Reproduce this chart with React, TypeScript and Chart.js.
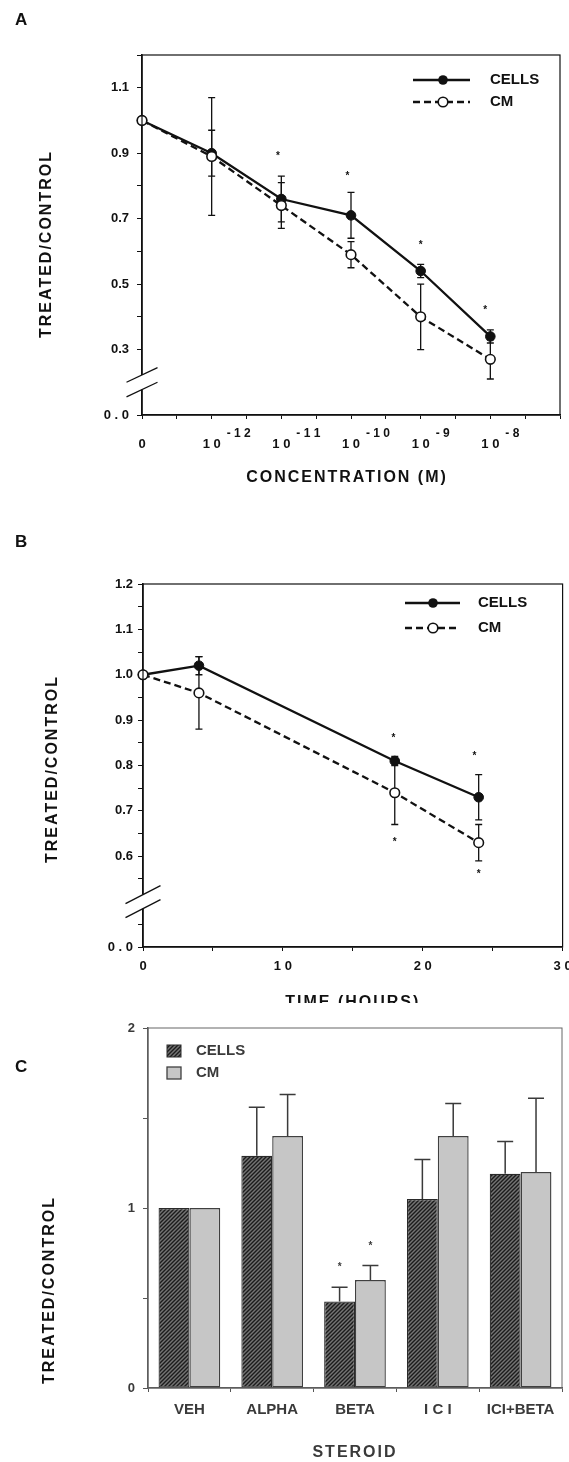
import React, { useEffect, useRef } from 'react';
import { Chart, registerables } from 'chart.js';
Chart.register(...registerables);

const FONT = '"Liberation Sans", Arial, Helvetica, sans-serif';
const INK = '#111111';
const GREY_INK = '#3a3a3a';

// ---------- Panel A : concentration ----------
const concPositionsA = [0, 2, 4, 6, 8, 10];
const concBaseLabelsA = ['0', '1 0', '1 0', '1 0', '1 0', '1 0'];
const concExpLabelsA = ['', '- 1 2', '- 1 1', '- 1 0', '- 9', '- 8'];
const cellsA = [1.0, 0.9, 0.76, 0.71, 0.54, 0.34];
const cellsErrA = [0, 0.07, 0.07, 0.07, 0.02, 0.02];
const cmA = [1.0, 0.89, 0.74, 0.59, 0.4, 0.27];
const cmErrA = [0, 0.18, 0.07, 0.04, 0.1, 0.06];
const starXA = [3.9, 5.9, 8, 9.85];
const starYA = [0.89, 0.83, 0.62, 0.42];
const yTickValuesA = [0.1, 0.3, 0.5, 0.7, 0.9, 1.1];
const yTickTextA = ['0 . 0', '0.3', '0.5', '0.7', '0.9', '1.1'];

// ---------- Panel B : time ----------
const hoursB = [0, 4, 18, 24];
const cellsB = [1.0, 1.02, 0.81, 0.73];
const cellsErrB = [0, 0.02, 0.01, 0.05];
const cmB = [1.0, 0.96, 0.74, 0.63];
const cmErrB = [0, 0.08, 0.07, 0.04];
const starXB = [17.9, 23.7, 18, 24];
const starYB = [0.86, 0.82, 0.63, 0.56];
const yTickValuesB = [0.4, 0.6, 0.7, 0.8, 0.9, 1.0, 1.1, 1.2];
const yTickTextB = ['0 . 0', '0.6', '0.7', '0.8', '0.9', '1.0', '1.1', '1.2'];
const xTickValuesB = [0, 10, 20, 30];
const xTickTextB = ['0', '1 0', '2 0', '3 0'];

// ---------- Panel C : steroid ----------
const steroidsC = ['VEH', 'ALPHA', 'BETA', 'I C I', 'ICI+BETA'];
const cellsC = [1.0, 1.29, 0.48, 1.05, 1.19];
const cellsUpperC = [null, 1.56, 0.56, 1.27, 1.37];
const cmC = [1.0, 1.4, 0.6, 1.4, 1.2];
const cmUpperC = [null, 1.63, 0.68, 1.58, 1.61];
const starsCellsC = [null, null, 0.67, null, null];
const starsCmC = [null, null, 0.79, null, null];
const yTickValuesC = [0, 1, 2];
const yTickTextC = ['0', '1', '2'];

function labelFor(values: number[], texts: string[], v: number) {
  const i = values.findIndex((t) => Math.abs(t - v) < 1e-6);
  return i >= 0 ? texts[i] : '';
}

const fixAxis = (w?: number, h?: number) => (s: any) => {
  if (w !== undefined) s.width = w;
  if (h !== undefined) s.height = h;
  s.paddingLeft = 0;
  s.paddingRight = 0;
  s.paddingTop = 0;
  s.paddingBottom = 0;
};

function txt(
  ctx: CanvasRenderingContext2D,
  s: string,
  x: number,
  y: number,
  font: string,
  o: { align?: CanvasTextAlign; baseline?: CanvasTextBaseline; color?: string; spacing?: number; rotate?: number } = {}
) {
  ctx.save();
  ctx.font = font;
  ctx.fillStyle = o.color || INK;
  ctx.textAlign = o.align || 'left';
  ctx.textBaseline = o.baseline || 'middle';
  if (o.spacing) (ctx as any).letterSpacing = o.spacing + 'px';
  ctx.translate(x, y);
  if (o.rotate) ctx.rotate(o.rotate);
  ctx.fillText(s, 0, 0);
  ctx.restore();
}

function box(ctx: CanvasRenderingContext2D, ca: any, color: string, lw: number) {
  ctx.save();
  ctx.strokeStyle = color;
  ctx.lineWidth = lw;
  ctx.strokeRect(ca.left, ca.top, ca.right - ca.left, ca.bottom - ca.top);
  ctx.restore();
}

function breakMarks(ctx: CanvasRenderingContext2D, ax: number, cy: number, dx: number, dy: number, gap: number) {
  ctx.save();
  ctx.fillStyle = '#fff';
  ctx.fillRect(ax - 2, cy - gap, 4, gap * 2);
  ctx.strokeStyle = INK;
  ctx.lineWidth = 1.3;
  for (const off of [-gap, gap]) {
    ctx.beginPath();
    ctx.moveTo(ax - dx, cy + off + dy);
    ctx.lineTo(ax + dx, cy + off - dy);
    ctx.stroke();
  }
  ctx.restore();
}

function errorBars(chart: any, xs: number[], ys: number[], errs: number[], half: number) {
  const { ctx, scales } = chart;
  const x = scales.x, y = scales.y;
  ctx.save();
  ctx.strokeStyle = INK;
  ctx.lineWidth = 1.3;
  xs.forEach((xv, i) => {
    const e = errs[i];
    if (!e) return;
    const px = x.getPixelForValue(xv);
    const y1 = y.getPixelForValue(ys[i] + e);
    const y2 = y.getPixelForValue(ys[i] - e);
    ctx.beginPath();
    ctx.moveTo(px, y1); ctx.lineTo(px, y2);
    ctx.moveTo(px - half, y1); ctx.lineTo(px + half, y1);
    ctx.moveTo(px - half, y2); ctx.lineTo(px + half, y2);
    ctx.stroke();
  });
  ctx.restore();
}

function lineLegend(ctx: CanvasRenderingContext2D, x0: number, x1: number, xm: number, xt: number, y1: number, y2: number) {
  ctx.save();
  ctx.strokeStyle = INK;
  ctx.lineWidth = 2.4;
  ctx.beginPath(); ctx.moveTo(x0, y1); ctx.lineTo(x1, y1); ctx.stroke();
  ctx.fillStyle = INK;
  ctx.beginPath(); ctx.arc(xm, y1, 4.8, 0, Math.PI * 2); ctx.fill();
  ctx.setLineDash([7, 4]);
  ctx.beginPath(); ctx.moveTo(x0, y2); ctx.lineTo(x1, y2); ctx.stroke();
  ctx.setLineDash([]);
  ctx.fillStyle = '#fff';
  ctx.lineWidth = 1.6;
  ctx.beginPath(); ctx.arc(xm, y2, 4.8, 0, Math.PI * 2); ctx.fill(); ctx.stroke();
  ctx.restore();
  txt(ctx, 'CELLS', xt, y1, `bold 15px ${FONT}`);
  txt(ctx, 'CM', xt, y2, `bold 15px ${FONT}`);
}

function lineDatasets(xs: number[], cells: number[], cm: number[]) {
  return [
    {
      label: 'CELLS',
      data: xs.map((x, i) => ({ x, y: cells[i] })),
      borderColor: INK,
      backgroundColor: INK,
      borderWidth: 2.3,
      pointRadius: 4.8,
      pointBackgroundColor: INK,
      pointBorderColor: INK,
      pointBorderWidth: 1,
      tension: 0,
      clip: false,
      order: 2,
    },
    {
      label: 'CM',
      data: xs.map((x, i) => ({ x, y: cm[i] })),
      borderColor: INK,
      backgroundColor: '#fff',
      borderWidth: 2.3,
      borderDash: [7, 4],
      pointRadius: 4.8,
      pointBackgroundColor: '#fff',
      pointBorderColor: INK,
      pointBorderWidth: 1.6,
      tension: 0,
      clip: false,
      order: 1,
    },
  ];
}

const tickFont = { family: FONT, size: 13, weight: 'bold' as const };

function buildA(): any {
  return {
    type: 'line',
    data: { datasets: lineDatasets(concPositionsA, cellsA, cmA) },
    options: {
      responsive: false,
      animation: false,
      events: [],
      layout: { padding: { left: 0, right: 9, top: 55, bottom: 35 } },
      plugins: { legend: { display: false }, tooltip: { enabled: false } },
      scales: {
        x: {
          type: 'linear', min: 0, max: 12,
          ticks: { stepSize: 1, display: false, autoSkip: false },
          grid: { drawOnChartArea: false, drawTicks: true, tickLength: 4, color: INK, lineWidth: 1 },
          border: { display: true, color: INK, width: 1.6 },
          afterFit: fixAxis(undefined, 40),
        },
        y: {
          type: 'linear', min: 0.1, max: 1.2,
          ticks: {
            stepSize: 0.1, autoSkip: false, padding: 8, color: INK, font: tickFont,
            callback: (v: number) => labelFor(yTickValuesA, yTickTextA, v),
          },
          grid: {
            drawOnChartArea: false, drawTicks: true, tickLength: 5, lineWidth: 1,
            color: (c: any) => (c.tick && Math.abs(c.tick.value - 0.2) < 1e-6 ? 'rgba(0,0,0,0)' : INK),
          },
          border: { display: true, color: INK, width: 1.6 },
          afterFit: fixAxis(142, undefined),
        },
      },
    },
    plugins: [
      {
        id: 'decorA',
        beforeDatasetsDraw(chart: any) {
          errorBars(chart, concPositionsA, cellsA, cellsErrA, 3.5);
          errorBars(chart, concPositionsA, cmA, cmErrA, 3.5);
        },
        afterDraw(chart: any) {
          const { ctx, chartArea: ca, scales } = chart;
          const x = scales.x, y = scales.y;
          box(ctx, ca, INK, 1.2);
          breakMarks(ctx, ca.left, y.getPixelForValue(0.2), 15.5, 7.3, 7.3);
          concPositionsA.forEach((p, i) => {
            const px = x.getPixelForValue(p);
            ctx.save();
            ctx.font = `bold 13px ${FONT}`;
            const w = ctx.measureText(concBaseLabelsA[i]).width;
            ctx.restore();
            txt(ctx, concBaseLabelsA[i], px, 444, `bold 13px ${FONT}`, { align: 'center' });
            if (concExpLabelsA[i]) txt(ctx, concExpLabelsA[i], px + w / 2 + 6, 434, `bold 12px ${FONT}`);
          });
          starXA.forEach((sx, i) =>
            txt(ctx, '*', x.getPixelForValue(sx), y.getPixelForValue(starYA[i]), `bold 10px ${FONT}`, { align: 'center' })
          );
          lineLegend(ctx, 413, 470, 443, 490, 80, 102);
          txt(ctx, 'CONCENTRATION (M)', (ca.left + ca.right) / 2 - 4, 482, `bold 16px ${FONT}`, { align: 'center', baseline: 'alphabetic', spacing: 2 });
          txt(ctx, 'TREATED/CONTROL', 47, 244, `bold 16px ${FONT}`, { align: 'center', spacing: 2, rotate: -Math.PI / 2 });
          txt(ctx, 'A', 15, 25, `bold 17px ${FONT}`, { baseline: 'alphabetic' });
        },
      },
    ],
  };
}

function buildB(): any {
  return {
    type: 'line',
    data: { datasets: lineDatasets(hoursB, cellsB, cmB) },
    options: {
      responsive: false,
      animation: false,
      events: [],
      layout: { padding: { left: 0, right: 6, top: 94, bottom: 16 } },
      plugins: { legend: { display: false }, tooltip: { enabled: false } },
      scales: {
        x: {
          type: 'linear', min: 0, max: 30,
          ticks: {
            stepSize: 5, autoSkip: false, maxRotation: 0, padding: 8, color: INK, font: tickFont,
            callback: (v: number) => labelFor(xTickValuesB, xTickTextB, v),
          },
          grid: { drawOnChartArea: false, drawTicks: true, tickLength: 4, color: INK, lineWidth: 1 },
          border: { display: true, color: INK, width: 1.6 },
          afterFit: fixAxis(undefined, 40),
        },
        y: {
          type: 'linear', min: 0.4, max: 1.2,
          ticks: {
            stepSize: 0.05, autoSkip: false, padding: 5, color: INK, font: tickFont,
            callback: (v: number) => labelFor(yTickValuesB, yTickTextB, v),
          },
          grid: {
            drawOnChartArea: false, drawTicks: true, tickLength: 5, lineWidth: 1,
            color: (c: any) => (c.tick && Math.abs(c.tick.value - 0.5) < 1e-6 ? 'rgba(0,0,0,0)' : INK),
          },
          border: { display: true, color: INK, width: 1.6 },
          afterFit: fixAxis(143, undefined),
        },
      },
    },
    plugins: [
      {
        id: 'decorB',
        beforeDatasetsDraw(chart: any) {
          errorBars(chart, hoursB, cellsB, cellsErrB, 3.5);
          errorBars(chart, hoursB, cmB, cmErrB, 3.5);
        },
        afterDraw(chart: any) {
          const { ctx, chartArea: ca, scales } = chart;
          const x = scales.x, y = scales.y;
          box(ctx, ca, INK, 1.2);
          breakMarks(ctx, ca.left, y.getPixelForValue(0.5), 17.5, 9, 7);
          starXB.forEach((sx, i) =>
            txt(ctx, '*', x.getPixelForValue(sx), y.getPixelForValue(starYB[i]), `bold 10px ${FONT}`, { align: 'center' })
          );
          lineLegend(ctx, 405, 460, 433, 478, 113, 138);
          txt(ctx, 'TIME (HOURS)', (ca.left + ca.right) / 2, 516.5, `bold 16px ${FONT}`, { align: 'center', baseline: 'alphabetic', spacing: 2 });
          txt(ctx, 'TREATED/CONTROL', 53, 769 - 490, `bold 16px ${FONT}`, { align: 'center', spacing: 2, rotate: -Math.PI / 2 });
          txt(ctx, 'B', 15, 57, `bold 17px ${FONT}`, { baseline: 'alphabetic' });
        },
      },
    ],
  };
}

function hatchPattern(target: CanvasRenderingContext2D) {
  const c = document.createElement('canvas');
  c.width = 4;
  c.height = 4;
  const g = c.getContext('2d')!;
  g.fillStyle = '#747474';
  g.fillRect(0, 0, 4, 4);
  g.strokeStyle = '#1c1c1c';
  g.lineWidth = 1.4;
  g.beginPath();
  g.moveTo(0, 4); g.lineTo(4, 0);
  g.moveTo(-1, 1); g.lineTo(1, -1);
  g.moveTo(3, 5); g.lineTo(5, 3);
  g.stroke();
  return target.createPattern(c, 'repeat');
}

function buildC(canvas: HTMLCanvasElement): any {
  const pattern = hatchPattern(canvas.getContext('2d')!);
  return {
    type: 'bar',
    data: {
      labels: steroidsC,
      datasets: [
        {
          label: 'CELLS', data: cellsC, backgroundColor: pattern, borderColor: '#2a2a2a',
          borderWidth: 1.2, borderSkipped: false, barPercentage: 1, categoryPercentage: 0.745,
        },
        {
          label: 'CM', data: cmC, backgroundColor: '#c6c6c6', borderColor: '#404040',
          borderWidth: 1.4, borderSkipped: false, barPercentage: 1, categoryPercentage: 0.745,
        },
      ],
    },
    options: {
      responsive: false,
      animation: false,
      events: [],
      layout: { padding: { left: 0, right: 7, top: 25, bottom: 34 } },
      plugins: { legend: { display: false }, tooltip: { enabled: false } },
      scales: {
        x: {
          type: 'category',
          ticks: { autoSkip: false, maxRotation: 0, padding: 9, color: GREY_INK, font: { family: FONT, size: 15, weight: 'bold' } },
          grid: { offset: true, drawOnChartArea: false, drawTicks: true, tickLength: 4, color: '#555', lineWidth: 1 },
          border: { display: true, color: '#555', width: 1.5 },
          afterFit: fixAxis(undefined, 40),
        },
        y: {
          type: 'linear', min: 0, max: 2,
          ticks: {
            stepSize: 0.5, autoSkip: false, padding: 8, color: GREY_INK, font: tickFont,
            callback: (v: number) => labelFor(yTickValuesC, yTickTextC, v),
          },
          grid: { drawOnChartArea: false, drawTicks: true, tickLength: 5, color: '#555', lineWidth: 1 },
          border: { display: true, color: '#555', width: 1.5 },
          afterFit: fixAxis(148, undefined),
        },
      },
    },
    plugins: [
      {
        id: 'decorC',
        afterDatasetsDraw(chart: any) {
          const { ctx, scales } = chart;
          const y = scales.y;
          const sets = [
            { meta: chart.getDatasetMeta(0), up: cellsUpperC, val: cellsC, stars: starsCellsC },
            { meta: chart.getDatasetMeta(1), up: cmUpperC, val: cmC, stars: starsCmC },
          ];
          ctx.save();
          ctx.strokeStyle = GREY_INK;
          ctx.lineWidth = 1.5;
          sets.forEach((s) => {
            s.meta.data.forEach((bar: any, i: number) => {
              const u = s.up[i];
              if (u == null) return;
              const top = y.getPixelForValue(u);
              const base = y.getPixelForValue(s.val[i]);
              ctx.beginPath();
              ctx.moveTo(bar.x, base); ctx.lineTo(bar.x, top);
              ctx.moveTo(bar.x - 8, top); ctx.lineTo(bar.x + 8, top);
              ctx.stroke();
            });
          });
          ctx.restore();
          sets.forEach((s) => {
            s.meta.data.forEach((bar: any, i: number) => {
              const sv = s.stars[i];
              if (sv == null) return;
              txt(ctx, '*', bar.x, y.getPixelForValue(sv), `bold 10px ${FONT}`, { align: 'center', color: GREY_INK });
            });
          });
        },
        afterDraw(chart: any) {
          const { ctx, chartArea: ca } = chart;
          box(ctx, ca, '#666', 1);
          // legend
          ctx.save();
          ctx.fillStyle = pattern as any;
          ctx.fillRect(167, 42, 14, 12);
          ctx.strokeStyle = '#2a2a2a';
          ctx.lineWidth = 1;
          ctx.strokeRect(167, 42, 14, 12);
          ctx.fillStyle = '#c6c6c6';
          ctx.fillRect(167, 64, 14, 12);
          ctx.strokeStyle = '#404040';
          ctx.lineWidth = 1.3;
          ctx.strokeRect(167, 64, 14, 12);
          ctx.restore();
          txt(ctx, 'CELLS', 196, 48, `bold 15px ${FONT}`, { color: GREY_INK });
          txt(ctx, 'CM', 196, 70, `bold 15px ${FONT}`, { color: GREY_INK });
          txt(ctx, 'STEROID', (ca.left + ca.right) / 2, 450, `bold 16px ${FONT}`, { align: 'center', spacing: 2, color: GREY_INK });
          txt(ctx, 'TREATED/CONTROL', 50, 287, `bold 16px ${FONT}`, { align: 'center', spacing: 2, rotate: -Math.PI / 2 });
          txt(ctx, 'C', 15, 69, `bold 17px ${FONT}`, { baseline: 'alphabetic' });
        },
      },
    ],
  };
}

function Panel({ top, height, build }: { top: number; height: number; build: (c: HTMLCanvasElement) => any }) {
  const ref = useRef<HTMLCanvasElement>(null);
  useEffect(() => {
    const c = ref.current!;
    const chart = new Chart(c, build(c));
    return () => chart.destroy();
  }, []);
  return (
    <canvas
      ref={ref}
      width={569}
      height={height}
      style={{ position: 'absolute', left: 0, top, width: 569, height, display: 'block' }}
    />
  );
}

export default function App() {
  return (
    <div style={{ position: 'absolute', left: 0, top: 0, width: 569, height: 1462, background: '#fff', overflow: 'hidden' }}>
      <Panel top={0} height={490} build={() => buildA()} />
      <Panel top={490} height={513} build={() => buildB()} />
      <Panel top={1003} height={459} build={(c) => buildC(c)} />
    </div>
  );
}
